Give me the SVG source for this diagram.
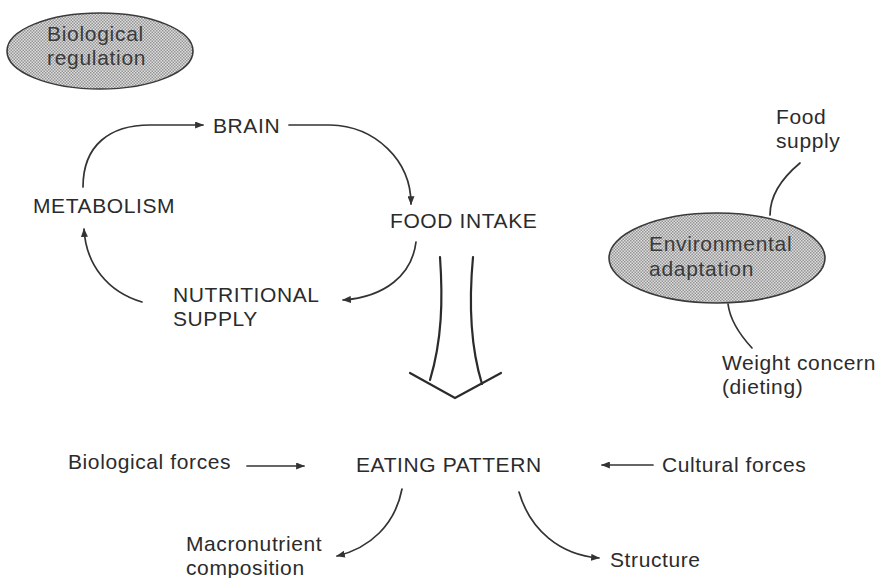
<svg xmlns="http://www.w3.org/2000/svg" width="878" height="578" viewBox="0 0 878 578">
<style>
text{font-family:"Liberation Sans",Arial,sans-serif;font-size:21px;letter-spacing:0.6px;fill:#2b2b2b}
.ell{fill:url(#dots);stroke:#3a3a3a;stroke-width:1.6}
text.et{fill:#3a3a3a;font-size:21px;letter-spacing:0.7px}
.c{fill:none;stroke:#333;stroke-width:1.7;stroke-linecap:round}
.a{marker-end:url(#ah)}
.big{fill:none;stroke:#2b2b2b;stroke-width:2.2;stroke-linecap:round;stroke-linejoin:miter}
</style>
<defs>
<pattern id="dots" width="3" height="3" patternUnits="userSpaceOnUse">
<rect width="3" height="3" fill="#dedede"/>
<rect width="1.5" height="1.5" fill="#949494"/>
<rect x="1.5" y="1.5" width="1.5" height="1.5" fill="#949494"/>
</pattern>
<marker id="ah" viewBox="0 0 10 8" refX="9" refY="4" markerWidth="9" markerHeight="7" markerUnits="userSpaceOnUse" orient="auto">
<path d="M0,0 L10,4 L0,8 Z" fill="#333"/>
</marker>
</defs>
<rect width="878" height="578" fill="#fff"/>

<g id="biological-regulation">
<ellipse class="ell" cx="100" cy="51" rx="93" ry="38"/>
<text class="et" x="47" y="41">Biological</text>
<text class="et" x="47" y="65">regulation</text>
</g>
<g id="environmental-adaptation">
<ellipse class="ell" cx="717" cy="258" rx="108" ry="45"/>
<text class="et" x="649" y="251">Environmental</text>
<text class="et" x="649" y="276">adaptation</text>
</g>
<g id="brain"><text x="213" y="133">BRAIN</text></g>
<g id="metabolism"><text x="33" y="213">METABOLISM</text></g>
<g id="food-intake"><text x="390" y="228">FOOD INTAKE</text></g>
<g id="nutritional-supply"><text x="173" y="302">NUTRITIONAL</text><text x="173" y="326">SUPPLY</text></g>
<g id="food-supply"><text x="776" y="124">Food</text><text x="776" y="148">supply</text></g>
<g id="weight-concern"><text x="722" y="370">Weight concern</text><text x="722" y="394">(dieting)</text></g>
<g id="eating-pattern"><text x="356" y="472">EATING PATTERN</text></g>
<g id="biological-forces"><text x="68" y="469">Biological forces</text></g>
<g id="cultural-forces"><text x="662" y="472">Cultural forces</text></g>
<g id="macronutrient"><text x="186" y="551">Macronutrient</text><text x="186" y="575">composition</text></g>
<g id="structure"><text x="610" y="567">Structure</text></g>

<g id="connectors">
<path class="c a" d="M83,187 C83,145 110,125 150,125 L203,125"/>
<path class="c a" d="M289,125 L330,125 C375,126 411,160 411,204"/>
<path class="c a" d="M416,242 C412,275 385,297 343,300"/>
<path class="c a" d="M142,302 C108,292 86,265 84,229"/>
<path class="c" d="M800,163 C782,178 770,195 770,215"/>
<path class="c" d="M728,304 C730,320 740,335 752,348"/>
<path class="c a" d="M247,466 L304,466"/>
<path class="c a" d="M653,465 L602,465"/>
<path class="c a" d="M402,489 C395,525 370,548 337,556"/>
<path class="c a" d="M519,492 C530,530 560,555 599,558"/>
<g id="big-arrow">
<path class="big" d="M440,257 C443,300 442,340 430,380"/>
<path class="big" d="M473,257 C469,300 470,345 482,384"/>
<path class="big" d="M410,373 L455,398 L501,373"/>
</g>
</g>
</svg>
